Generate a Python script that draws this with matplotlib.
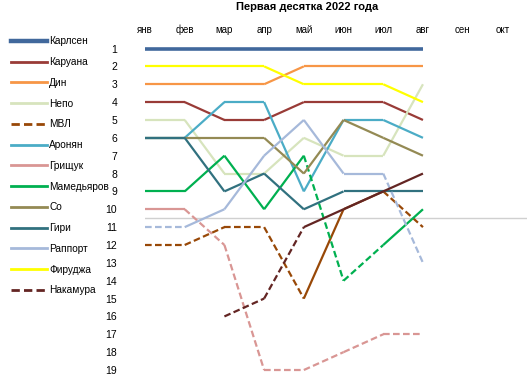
import matplotlib
matplotlib.use('Agg')
import matplotlib.pyplot as plt
import numpy as np
from matplotlib.lines import Line2D

plt.rcParams['font.family'] = ['Liberation Sans', 'DejaVu Sans']

months = ['янв', 'фев', 'мар', 'апр', 'май', 'июн', 'июл', 'авг', 'сен', 'окт']
nan = np.nan

# ranks per month (Jan..Aug)
players = ['Карлсен', 'Каруана', 'Дин', 'Непо', 'МВЛ', 'Аронян', 'Грищук',
           'Мамедьяров', 'Со', 'Гири', 'Раппорт', 'Фируджа', 'Накамура']
carlsen = [1, 1, 1, 1, 1, 1, 1, 1]
caruana = [4, 4, 5, 5, 4, 4, 4, 5]
ding = [3, 3, 3, 3, 2, 2, 2, 2]
nepo = [5, 5, 8, 8, 6, 7, 7, 3]
mvl = [12, 12, 11, 11, 15, 10, 9, 11]
aronian = [6, 6, 4, 4, 9, 5, 5, 6]
grischuk = [10, 10, 12, 19, 19, 18, 17, 17]
mamedyarov = [9, 9, 7, 10, 7, 14, 12, 10]
so = [6, 6, 6, 6, 8, 5, 6, 7]
giri = [6, 6, 9, 8, 10, 9, 9, 9]
rapport = [11, 11, 10, 7, 5, 8, 8, 13]
firouzja = [2, 2, 2, 2, 3, 3, 3, 4]
nakamura = [nan, nan, 16, 15, 11, 10, 9, 8]

series = [carlsen, caruana, ding, nepo, mvl, aronian, grischuk,
          mamedyarov, so, giri, rapport, firouzja, nakamura]
colors = ['#41689C', '#993B37', '#F79646', '#D7E4BD', '#984807', '#4BACC6',
          '#D99694', '#00B050', '#948A54', '#31717F', '#A6B9DA', '#FFFF00',
          '#632523']
legend_dashed = ['МВЛ', 'Накамура']

fig = plt.figure(figsize=(5.27, 3.8), dpi=100)
ax = fig.add_axes([145/527, 0, 382/527, 342/380])

x = np.arange(8)
for name, vals, col in zip(players, series, colors):
    lw = 2.6 if name == 'Карлсен' else 1.6
    v = np.array(vals, dtype=float)
    for i in range(len(v) - 1):
        if np.isnan(v[i]) or np.isnan(v[i + 1]):
            continue
        # segment is dashed when the player ends it outside the top ten
        ls = '-' if v[i + 1] <= 10 else (0, (3, 1.5))
        ax.plot(x[i:i + 2], v[i:i + 2], color=col, lw=lw, ls=ls,
                solid_capstyle='butt', clip_on=False)

ax.axhline(10.5, color='#D0D0D0', lw=1.0, zorder=0)

ax.set_xlim(0, 9.62)
ax.set_ylim(19.56, 0.41)
ax.set_xticks(range(len(months)))
ax.set_xticklabels(months, fontsize=7)
ax.xaxis.tick_top()
ax.set_yticks(range(1, 20))
ax.set_yticklabels([str(i) for i in range(1, 20)], fontsize=7.5)
ax.tick_params(length=0)
ax.tick_params(axis='x', pad=2.5)
ax.tick_params(axis='y', pad=20)
for s in ax.spines.values():
    s.set_visible(False)

handles = []
for name, col in zip(players, colors):
    lw = 3.2 if name == 'Карлсен' else 2.0
    ls = (0, (3, 1.5)) if name in legend_dashed else '-'
    handles.append(Line2D([], [], color=col, lw=lw, ls=ls))
fig.legend(handles, players, loc='upper left', bbox_to_anchor=(0.021, 0.904),
           frameon=False, fontsize=7.3, handlelength=3.5, handletextpad=0.25,
           labelspacing=1.06, borderaxespad=0, borderpad=0)

fig.text(307/527, 1 - 7/380, 'Первая десятка 2022 года', ha='center', va='center',
         fontsize=8, fontweight='bold')

fig.savefig('out.png', dpi=100)
